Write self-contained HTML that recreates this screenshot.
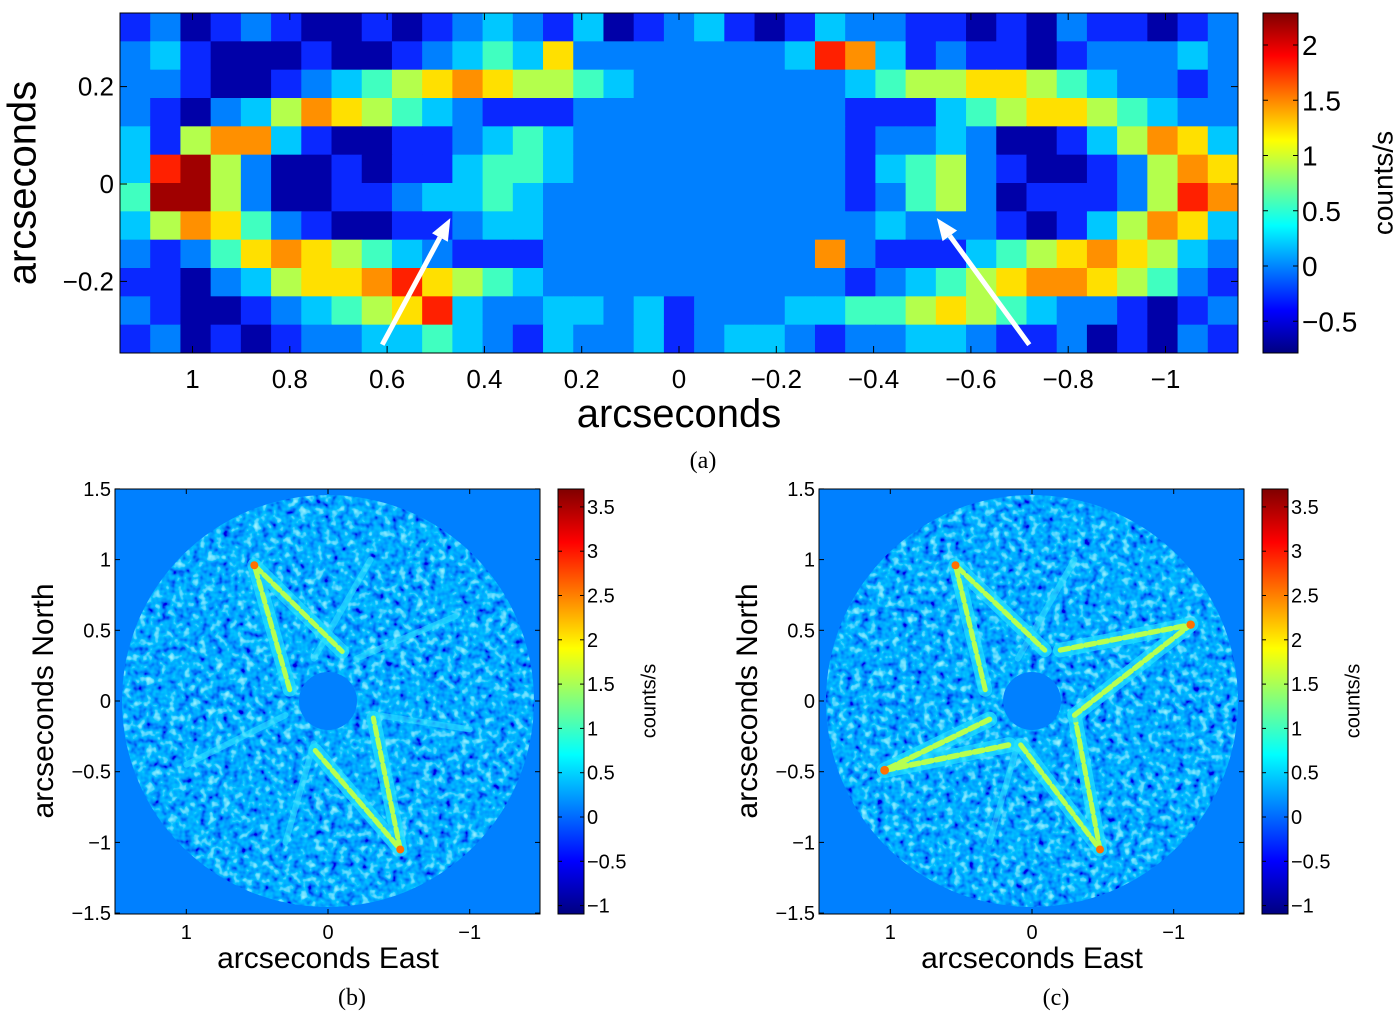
<!DOCTYPE html>
<html><head><meta charset="utf-8"><style>
body{margin:0;background:#fff;}
svg{display:block;font-family:"Liberation Sans",sans-serif;}
</style></head><body>
<svg id="fig" width="1400" height="1011" viewBox="0 0 1400 1011" xmlns="http://www.w3.org/2000/svg">
<defs>
<linearGradient id="jet" x1="0" y1="1" x2="0" y2="0">
<stop offset="0" stop-color="#000080"/><stop offset="0.125" stop-color="#0000ff"/><stop offset="0.375" stop-color="#00ffff"/><stop offset="0.625" stop-color="#ffff00"/><stop offset="0.875" stop-color="#ff0000"/><stop offset="1" stop-color="#800000"/>
</linearGradient>
<filter id="noise" x="0" y="0" width="100%" height="100%">
<feTurbulence type="fractalNoise" baseFrequency="0.13" numOctaves="2" seed="3"/>
<feColorMatrix type="matrix" values="1 0 0 0 0 1 0 0 0 0 1 0 0 0 0 0 0 0 0 1"/>
<feComponentTransfer><feFuncR type="table" tableValues="0 0 0 0 0.2 0.5"/><feFuncG type="table" tableValues="0 0 0.3 0.55 0.8 1"/><feFuncB type="table" tableValues="0.5 0.85 1 1 1 1"/></feComponentTransfer>
</filter>
<clipPath id="diskB"><circle cx="328" cy="701" r="206"/></clipPath>
<clipPath id="diskC"><circle cx="1032" cy="701" r="206"/></clipPath>
<clipPath id="clipA"><rect x="120" y="13" width="1118" height="340"/></clipPath>
</defs>
<g id="panelA" clip-path="url(#clipA)"></g>
<rect x="120" y="13" width="1118" height="340" fill="none" stroke="#000" stroke-width="1"/>
<g id="arrows"></g>
<g id="axesA"></g>
<text x="25" y="183" font-size="40" text-anchor="middle" transform="rotate(-90 25 183)" dominant-baseline="middle">arcseconds</text>
<text x="679" y="427" font-size="40" text-anchor="middle">arcseconds</text>
<text x="703" y="468" font-size="24" text-anchor="middle" font-family="Liberation Serif,serif">(a)</text>
<rect x="1263" y="13" width="35" height="340" fill="url(#jet)" stroke="#000"/>
<g id="cbA"></g>
<text x="1385" y="183" font-size="28" text-anchor="middle" transform="rotate(-90 1385 183)" dominant-baseline="middle">counts/s</text>

<g id="panelB"></g>
<g id="panelC"></g>
<text x="328" y="968" font-size="30" text-anchor="middle">arcseconds East</text>
<text x="45" y="701" font-size="30" text-anchor="middle" dominant-baseline="middle" transform="rotate(-90 45 701)">arcseconds North</text>
<text x="352" y="1005" font-size="24" text-anchor="middle" font-family="Liberation Serif,serif">(b)</text>
<text x="1032" y="968" font-size="30" text-anchor="middle">arcseconds East</text>
<text x="749" y="701" font-size="30" text-anchor="middle" dominant-baseline="middle" transform="rotate(-90 749 701)">arcseconds North</text>
<text x="1056" y="1005" font-size="24" text-anchor="middle" font-family="Liberation Serif,serif">(c)</text>
</svg>
<script>
// Panel (a) data: level codes 0..9 (low..high counts), 12 rows x 37 cols
const rowsA = [
"1201210010123213012310132211010211012",
"2310001001234362222222387312110122232",
"2210012345676554322222223455665432212",
"2102357654321112222222221113456654322",
"3157731001123432222222221223200135763",
"3895200101134432222222221345210012576",
"4995200112334322222222221245201112587",
"3576421001123322222222222322210135763",
"2124676543211122222222272111345676532",
"1102356678654322222222221234567765421",
"2100123456832233231222334456543221012",
"1201012233432132231233212233211201021"];
const levelColors = ["#0000a8","#0a28ff","#0080ff","#00c8ff","#40ffc0","#b4ff4c","#ffe000","#ff9000","#ff2000","#a00000"];
const xTicksA = [1,0.8,0.6,0.4,0.2,0,-0.2,-0.4,-0.6,-0.8,-1];
const xTickLabelsA = ["1","0.8","0.6","0.4","0.2","0","\u22120.2","\u22120.4","\u22120.6","\u22120.8","\u22121"];
const yTicksA = [0.2,0,-0.2];
const yTickLabelsA = ["0.2","0","\u22120.2"];
const cbTicksA = [2,1.5,1,0.5,0,-0.5];
const cbLabelsA = ["2","1.5","1","0.5","0","\u22120.5"];
const cbTicksB = [3.5,3,2.5,2,1.5,1,0.5,0,-0.5,-1];
const cbLabelsB = ["3.5","3","2.5","2","1.5","1","0.5","0","\u22120.5","\u22121"];
const ticksB = [1.5,1,0.5,0,-0.5,-1,-1.5];
const tickLabelsB = ["1.5","1","0.5","0","\u22120.5","\u22121","\u22121.5"];
const xTicksB = [1,0,-1];
const xTickLabelsB = ["1","0","\u22121"];
// arrows in panel a (arcsec): tail x,y -> head x,y
const arrowTailX = [0.61, -0.72];
const arrowTailY = [-0.33, -0.33];
const arrowHeadX = [0.47, -0.53];
const arrowHeadY = [-0.07, -0.07];
// star lobes: [x1,y1, tipX,tipY, x2,y2] in arcsec (East positive = left)
const lobesB = [[0.27,0.08,0.52,0.96,-0.1,0.35],[0.09,-0.35,-0.51,-1.05,-0.32,-0.12]];
const lobeStrengthB = [1,1];
const faintB = [[0.1,0.3,-0.3,1.0],[-0.2,0.3,-0.9,0.6],[0.3,-0.1,1.0,-0.45],[0.1,-0.3,0.3,-1.0],[-0.35,-0.1,-1.0,-0.2]];
const lobesC = [[0.33,0.08,0.54,0.96,-0.09,0.36],[0.08,-0.31,-0.48,-1.05,-0.3,-0.1],[0.30,-0.13,1.04,-0.49,0.16,-0.31],[-0.2,0.36,-1.12,0.54,-0.3,-0.1]];
const lobeStrengthC = [1,1,1.1,1.05];
const faintC = [[0.1,0.3,-0.3,1.0],[0.1,-0.3,0.3,-1.0]];

const NS="http://www.w3.org/2000/svg";
function mk(tag, attrs, parent){const e=document.createElementNS(NS,tag);for(const k in attrs)e.setAttribute(k,attrs[k]);parent.appendChild(e);return e;}

const ax = v => 679 - v*486.5;
const ay = v => 184 - v*487;
const gA=document.getElementById('panelA');
const nCols=37, nRows=rowsA.length, x0=120, y0=13, W=1118, H=340;
rowsA.forEach((row,r)=>{for(let c=0;c<nCols;c++){const lv=+row[c];
 const cell=mk('rect',{x:x0+c*W/nCols,y:y0+r*H/nRows,width:W/nCols+0.6,height:H/nRows+0.6,fill:levelColors[lv]},gA);
 
 }});
const gAr=document.getElementById('arrows');
for(let i=0;i<arrowTailX.length;i++){
 const tx=ax(arrowTailX[i]),ty=ay(arrowTailY[i]),hx=ax(arrowHeadX[i]),hy=ay(arrowHeadY[i]);
 const ang=Math.atan2(hy-ty,hx-tx),L=22,wd=9;
 const bx=hx-L*Math.cos(ang),by=hy-L*Math.sin(ang);
 const g=mk('g',{},gAr);
 
 
 mk('line',{x1:tx,y1:ty,x2:bx,y2:by,stroke:'#fff','stroke-width':5},g);
 mk('polygon',{points:`${hx},${hy} ${bx-wd*Math.sin(ang)},${by+wd*Math.cos(ang)} ${bx+wd*Math.sin(ang)},${by-wd*Math.cos(ang)}`,fill:'#fff'},g);
}
const gAx=document.getElementById('axesA');
xTicksA.forEach((v,i)=>{const x=ax(v);
 mk('line',{x1:x,y1:13,x2:x,y2:20,stroke:'#000'},gAx);mk('line',{x1:x,y1:353,x2:x,y2:346,stroke:'#000'},gAx);
 const t=mk('text',{x:x,y:388,'font-size':26,'text-anchor':'middle'},gAx);t.textContent=xTickLabelsA[i];
 
 });
yTicksA.forEach((v,i)=>{const y=ay(v);
 mk('line',{x1:120,y1:y,x2:127,y2:y,stroke:'#000'},gAx);mk('line',{x1:1238,y1:y,x2:1231,y2:y,stroke:'#000'},gAx);
 const t=mk('text',{x:114,y:y+9,'font-size':26,'text-anchor':'end'},gAx);t.textContent=yTickLabelsA[i];
 
 });
const cbA=document.getElementById('cbA');
const cya=v=>266-v*110.5;
cbTicksA.forEach((v,i)=>{const y=cya(v);
 mk('line',{x1:1263,y1:y,x2:1268,y2:y,stroke:'#000'},cbA);mk('line',{x1:1298,y1:y,x2:1293,y2:y,stroke:'#000'},cbA);
 const t=mk('text',{x:1302,y:y+10,'font-size':28},cbA);t.textContent=cbLabelsA[i];
 
 });

function drawPanel(id,cx0,clip,lobes,strength,faint){
 const g=document.getElementById(id);
 const left=cx0-213, top=489, S=425;
 const px=v=>cx0 - v*141.7, py=v=>701 - v*141.4;
 mk('rect',{x:left,y:top,width:S,height:S,fill:'#0080ff'},g);
 const gd=mk('g',{'clip-path':`url(#${clip})`},g);
 const n=mk('rect',{x:left,y:top,width:S,height:S,filter:'url(#noise)'},gd);
 
 
 faint.forEach(f=>{const l=mk('line',{x1:px(f[0]),y1:py(f[1]),x2:px(f[2]),y2:py(f[3]),stroke:'#30e0ff','stroke-width':6,'stroke-linecap':'round',opacity:0.6},gd);
  
  });
 lobes.forEach((lb,i)=>{const pts=`${px(lb[0])},${py(lb[1])} ${px(lb[2])},${py(lb[3])} ${px(lb[4])},${py(lb[5])}`;
  const lg=mk('g',{},gd);
  
  
  mk('polyline',{points:pts,fill:'none',stroke:'#20e0ff','stroke-width':14*strength[i],'stroke-linejoin':'round','stroke-linecap':'round',opacity:0.75},lg);
  mk('polyline',{points:pts,fill:'none',stroke:'#b8ff50','stroke-width':5*strength[i],'stroke-linejoin':'round','stroke-linecap':'round','stroke-dasharray':'9 4'},lg);
  mk('circle',{cx:px(lb[2]),cy:py(lb[3]),r:4*strength[i],fill:'#ff7000'},lg);
 });
 mk('circle',{cx:cx0,cy:701,r:29,fill:'#0080ff'},g);
 mk('rect',{x:left,y:top,width:S,height:S,fill:'none',stroke:'#000'},g);
 ticksB.forEach((v,i)=>{const y=py(v);
  mk('line',{x1:left,y1:y,x2:left+5,y2:y,stroke:'#000'},g);mk('line',{x1:left+S,y1:y,x2:left+S-5,y2:y,stroke:'#000'},g);
  const t=mk('text',{x:left-4,y:y+7,'font-size':20,'text-anchor':'end'},g);t.textContent=tickLabelsB[i];
  
  });
 xTicksB.forEach((v,i)=>{const x=px(v);
  mk('line',{x1:x,y1:top+S,x2:x,y2:top+S-5,stroke:'#000'},g);mk('line',{x1:x,y1:top,x2:x,y2:top+5,stroke:'#000'},g);
  const t=mk('text',{x:x,y:939,'font-size':20,'text-anchor':'middle'},g);t.textContent=xTickLabelsB[i];
  
  });
 const cbx=left+S+18;
 const cb=mk('rect',{x:cbx,y:top,width:26,height:S,fill:'url(#jet)',stroke:'#000'},g);
 
 
 const cyb=v=>817-v*88.6;
 cbTicksB.forEach((v,i)=>{const y=cyb(v);
  mk('line',{x1:cbx,y1:y,x2:cbx+4,y2:y,stroke:'#000'},g);mk('line',{x1:cbx+26,y1:y,x2:cbx+22,y2:y,stroke:'#000'},g);
  const t=mk('text',{x:cbx+29,y:y+7,'font-size':20},g);t.textContent=cbLabelsB[i];
  
  });
 const lab=mk('text',{x:cbx+92,y:701,'font-size':20,'text-anchor':'middle',transform:`rotate(-90 ${cbx+92} 701)`,'dominant-baseline':'middle'},g);
 lab.textContent='counts/s';
 
 
}
drawPanel('panelB',328,'diskB',lobesB,lobeStrengthB,faintB);
drawPanel('panelC',1032,'diskC',lobesC,lobeStrengthC,faintC);
</script>
</body></html>
